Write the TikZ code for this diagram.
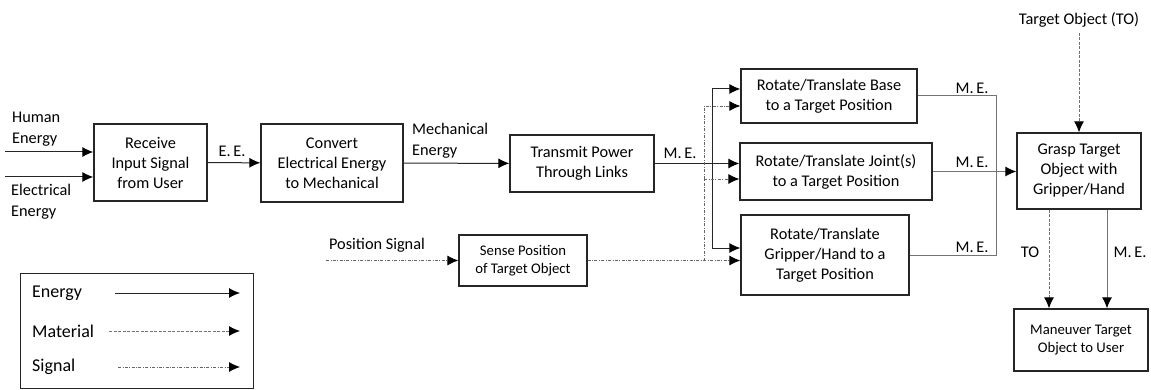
\documentclass[tikz,border=0pt]{standalone}
\usepackage{fontspec}
\setmainfont{Carlito}
\usetikzlibrary{arrows.meta,positioning}

\begin{document}
\begin{tikzpicture}
		[x=1pt,y=-1pt,
		block/.style ={rectangle, draw=black!85, line width=1.3pt, align=center, inner sep=0pt, font=\fontsize{16.3}{20}\selectfont},
		smallblock/.style ={block, font=\fontsize{14.7}{18.5}\selectfont},
		lbl/.style ={inner sep=0pt, align=left, font=\fontsize{16.3}{21}\selectfont},
		leglbl/.style ={inner sep=0pt, anchor=west, font=\fontsize{18}{22}\selectfont},
		tip/.style ={-{Latex[length=11pt,width=10pt,color=black]}},
		energy/.style ={draw=black!85, line width=1pt, tip},
		plain/.style ={draw=black!55, line width=1pt},
		material/.style ={draw=black!55, line width=0.9pt, dash pattern=on 3pt off 1.5pt, tip},
		signal/.style ={draw=black!60, line width=0.8pt, dash pattern=on 3pt off 1.5pt on 0.8pt off 1.5pt, tip},
		]
		\useasboundingbox (0,0) rectangle (1151,390);

		% function blocks
		\draw (150.5,162.5) node[block, minimum width=113, minimum height=77] (Receive) {Receive\\Input Signal\\from User};
		\draw (332,163) node[block, minimum width=142, minimum height=78] (Convert) {Convert\\Electrical Energy\\to Mechanical};
		\draw (582,163.5) node[block, minimum width=144, minimum height=57] (Transmit) {Transmit Power\\Through Links};
		\draw (829,96) node[block, minimum width=176, minimum height=54] (Base) {Rotate/Translate Base\\to a Target Position};
		\draw (836,171.5) node[block, minimum width=192, minimum height=57] (Joint) {Rotate/Translate Joint(s)\\to a Target Position};
		\draw (825,255) node[block, minimum width=168, minimum height=80] (Gripper) {Rotate/Translate\\Gripper/Hand to a\\Target Position};
		\draw (1079,171) node[block, minimum width=124, minimum height=76] (Grasp) {Grasp Target\\Object with\\Gripper/Hand};
		\draw (523,260.5) node[smallblock, minimum width=128, minimum height=51] (Sense) {Sense Position\\of Target Object};
		\draw (1081,340) node[smallblock, minimum width=134, minimum height=62] (Maneuver) {Maneuver Target\\Object to User};

		% labels
		\draw (12,129) node[lbl, anchor=west] (HumanLbl) {Human\\Energy};
		\draw (11,202) node[lbl, anchor=west] (ElecLbl) {Electrical\\Energy};
		\draw (232,151) node[lbl] (EELbl) {E.\,E.};
		\draw (412,141) node[lbl, anchor=west] (MechLbl) {Mechanical\\Energy};
		\draw (680,153) node[lbl] (ME1Lbl) {M.\,E.};
		\draw (377,245) node[lbl] (PosLbl) {Position Signal};
		\draw (1079,20) node[lbl] (TOLbl) {Target Object (TO)};
		\draw (972,88) node[lbl] (ME2Lbl) {M.\,E.};
		\draw (972,162) node[lbl] (ME3Lbl) {M.\,E.};
		\draw (972,247) node[lbl] (ME4Lbl) {M.\,E.};
		\draw (1030,252) node[lbl] (TO2Lbl) {TO};
		\draw (1130,252) node[lbl] (ME5Lbl) {M.\,E.};

		% free ends and junctions
		\coordinate (HumanIn) at (5,152);
		\coordinate (ElecIn) at (5,177);
		\coordinate (PosIn) at (326,260.5);
		\coordinate (Split) at (712,163.5);
		\coordinate (SigSplit) at (704,260.5);
		\coordinate (Merge) at (996,171);

		% energy flow
		\draw[energy] (HumanIn) -- (HumanIn -| Receive.west);
		\draw[energy] (ElecIn) -- (ElecIn -| Receive.west);
		\draw[energy] (Receive) -- (Convert);
		\draw[energy] (Convert) -- (Transmit);
		\draw[energy] (Transmit.east) -- (Transmit.east -| Joint.west);
		\draw[energy] (Split) |- ([yshift=7pt]Base.west);
		\draw[energy] (Split) |- ([yshift=7pt]Gripper.west);
		\draw[plain] (Base.east) -| (Merge) |- (Gripper.east);
		\draw[plain, tip] (Joint.east) -- (Joint.east -| Grasp.west);
		\draw[plain, tip] ([xshift=28pt]Grasp.south) -- ([xshift=28pt]Grasp.south |- Maneuver.north);

		% material flow
		\draw[material] (TOLbl.south) ++(0,5) -- (Grasp.north);
		\draw[material] ([xshift=-30pt]Grasp.south) -- ([xshift=-30pt]Grasp.south |- Maneuver.north);

		% signal flow
		\draw[signal] (PosIn) -- (Sense.west);
		\draw[signal] (Sense.east) -- (Sense.east -| Gripper.west);
		\draw[signal] (SigSplit) |- ([yshift=-10pt]Base.west);
		\draw[signal] (SigSplit) |- ([yshift=-7.5pt]Joint.west);

		% legend
		\draw (136.5,330.5) node[rectangle, draw=black!85, line width=1pt, minimum width=233, minimum height=115] (Legend) {};
		\draw (32,293) node[leglbl] (LegE) {Energy};
		\draw (32,331) node[leglbl] (LegM) {Material};
		\draw (32,367) node[leglbl] (LegS) {Signal};
		\coordinate (LegEnd) at (240,0);
		\draw[energy] (115,293) -- (LegEnd |- LegE);
		\draw[material] (109,331) -- (LegEnd |- LegM);
		\draw[signal] (118,367) -- (LegEnd |- LegS);
	\end{tikzpicture}
\end{document}
